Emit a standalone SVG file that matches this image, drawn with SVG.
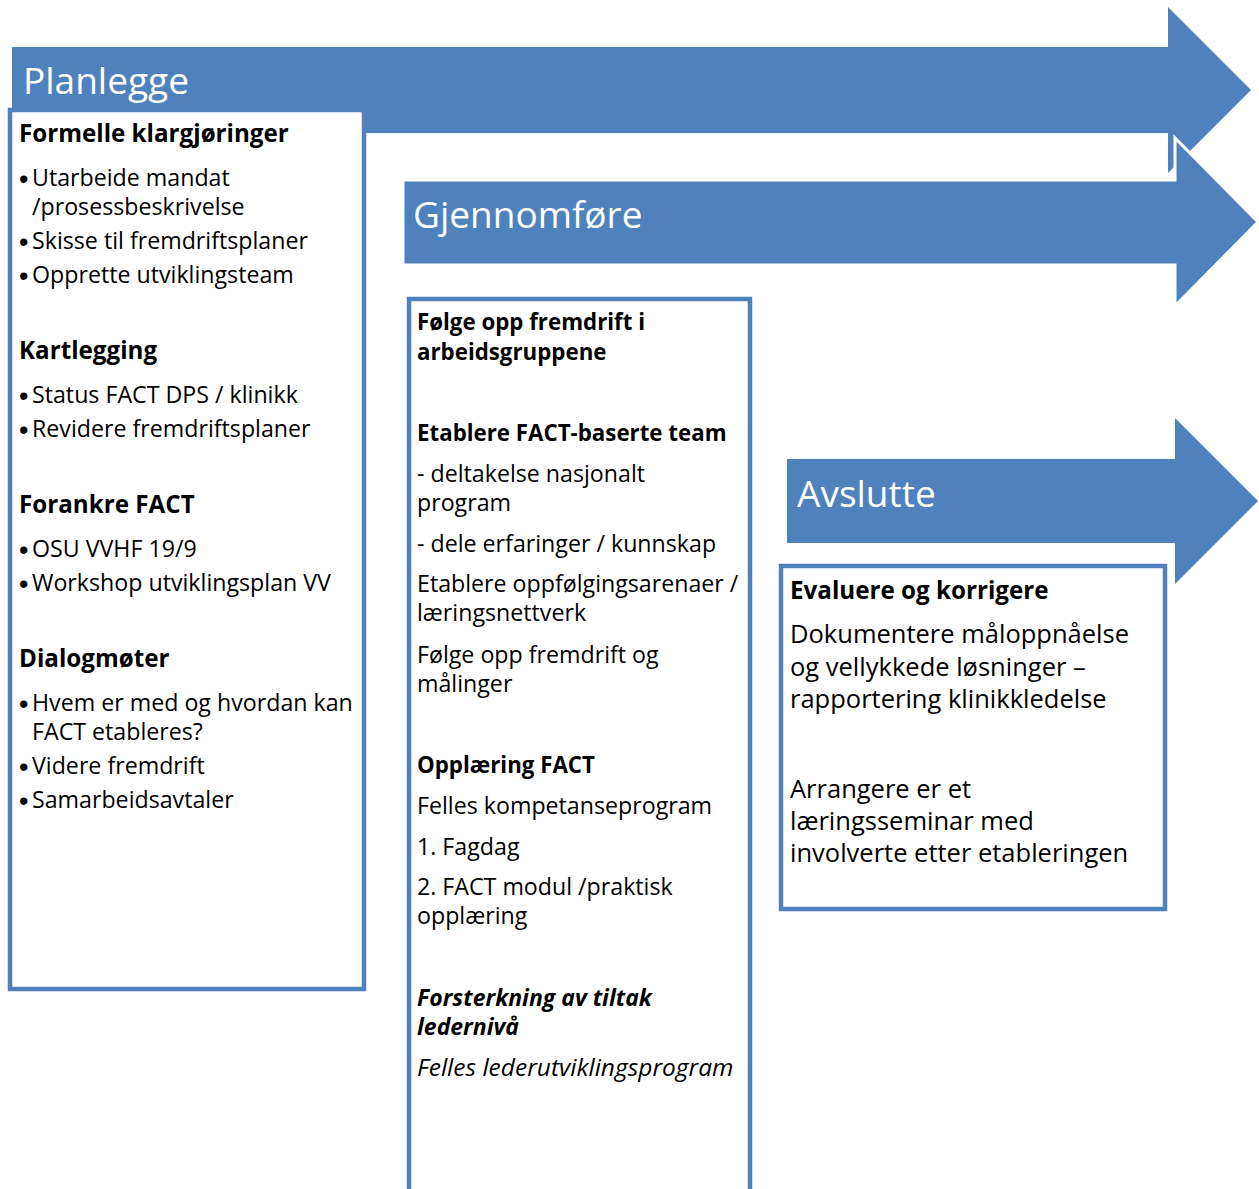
<svg xmlns="http://www.w3.org/2000/svg" width="1259" height="1189" viewBox="0 0 1259 1189">
<style>
.arrow{fill:#4F81BD}
.box{fill:#fff;stroke:#4F81BD;stroke-width:4.5}
.title{font-family:"Open Sans","Liberation Sans",sans-serif;font-size:37px;fill:#fff}
text{font-family:"Open Sans","Liberation Sans",sans-serif;fill:#000}
.dot{font-family:"Liberation Sans",sans-serif;font-size:27px}
.h{font-size:24.2px;font-weight:bold}
.h2{font-size:22.3px;font-weight:bold}
.hi{font-size:23px;font-weight:bold;font-style:italic}
.b{font-size:23.2px}
.bi{font-size:24.5px;font-style:italic}
.l{font-size:25.5px}
</style>
<rect width="1259" height="1189" fill="#fff"/>
<g id="planlegge">
<path class="arrow" d="M12,47 H1168 V7 L1251,90 L1168,173 V133 H12 Z"/>
<text class="title" x="23" y="94">Planlegge</text>
</g>
<g id="gjennomfore">
<path class="arrow" d="M403,180 H1175 V138 L1258,222 L1175,306 V265 H403 Z" stroke="#fff" stroke-width="3"/>
<text class="title" x="413" y="228">Gjennomføre</text>
</g>
<g id="avslutte">
<path class="arrow" d="M787,459 H1175 V418 L1258,501 L1175,584 V543 H787 Z"/>
<text class="title" x="797" y="507">Avslutte</text>
</g>
<g id="box-planlegge">
<rect class="box" x="10" y="110" width="354" height="879"/>
<text class="h" x="19" y="142">Formelle klargjøringer</text>
<text class="dot" x="19" y="188">•</text><text class="b" x="32" y="186">Utarbeide mandat</text>
<text class="b" x="32" y="215">/prosessbeskrivelse</text>
<text class="dot" x="19" y="251">•</text><text class="b" x="32" y="249">Skisse til fremdriftsplaner</text>
<text class="dot" x="19" y="285">•</text><text class="b" x="32" y="283">Opprette utviklingsteam</text>
<text class="h" x="19" y="359">Kartlegging</text>
<text class="dot" x="19" y="405">•</text><text class="b" x="32" y="403">Status FACT DPS / klinikk</text>
<text class="dot" x="19" y="439">•</text><text class="b" x="32" y="437">Revidere fremdriftsplaner</text>
<text class="h" x="19" y="513">Forankre FACT</text>
<text class="dot" x="19" y="559">•</text><text class="b" x="32" y="557">OSU VVHF 19/9</text>
<text class="dot" x="19" y="593">•</text><text class="b" x="32" y="591">Workshop utviklingsplan VV</text>
<text class="h" x="19" y="667">Dialogmøter</text>
<text class="dot" x="19" y="713">•</text><text class="b" x="32" y="711">Hvem er med og hvordan kan</text>
<text class="b" x="32" y="740">FACT etableres?</text>
<text class="dot" x="19" y="776">•</text><text class="b" x="32" y="774">Videre fremdrift</text>
<text class="dot" x="19" y="810">•</text><text class="b" x="32" y="808">Samarbeidsavtaler</text>
</g>
<g id="box-gjennomfore">
<rect class="box" x="409" y="299" width="341" height="910"/>
<text class="h2" x="417" y="330">Følge opp fremdrift i</text>
<text class="h2" x="417" y="360">arbeidsgruppene</text>
<text class="h2" x="417" y="441">Etablere FACT-baserte team</text>
<text class="b" x="417" y="482">- deltakelse nasjonalt</text>
<text class="b" x="417" y="511">program</text>
<text class="b" x="417" y="552">- dele erfaringer / kunnskap</text>
<text class="b" x="417" y="592">Etablere oppfølgingsarenaer /</text>
<text class="b" x="417" y="621">læringsnettverk</text>
<text class="b" x="417" y="663">Følge opp fremdrift og</text>
<text class="b" x="417" y="692">målinger</text>
<text class="h2" x="417" y="773">Opplæring FACT</text>
<text class="b" x="417" y="814">Felles kompetanseprogram</text>
<text class="b" x="417" y="855">1. Fagdag</text>
<text class="b" x="417" y="895">2. FACT modul /praktisk</text>
<text class="b" x="417" y="924">opplæring</text>
<text class="hi" x="417" y="1006">Forsterkning av tiltak</text>
<text class="hi" x="417" y="1035">ledernivå</text>
<text class="bi" x="417" y="1076">Felles lederutviklingsprogram</text>
</g>
<g id="box-avslutte">
<rect class="box" x="781" y="566" width="384" height="343"/>
<text class="h" x="790" y="599">Evaluere og korrigere</text>
<text class="l" x="790" y="643">Dokumentere måloppnåelse</text>
<text class="l" x="790" y="676">og vellykkede løsninger –</text>
<text class="l" x="790" y="708">rapportering klinikkledelse</text>
<text class="l" x="790" y="798">Arrangere er et</text>
<text class="l" x="790" y="830">læringsseminar med</text>
<text class="l" x="790" y="862">involverte etter etableringen</text>
</g>
<g id="connectors"></g>
</svg>
